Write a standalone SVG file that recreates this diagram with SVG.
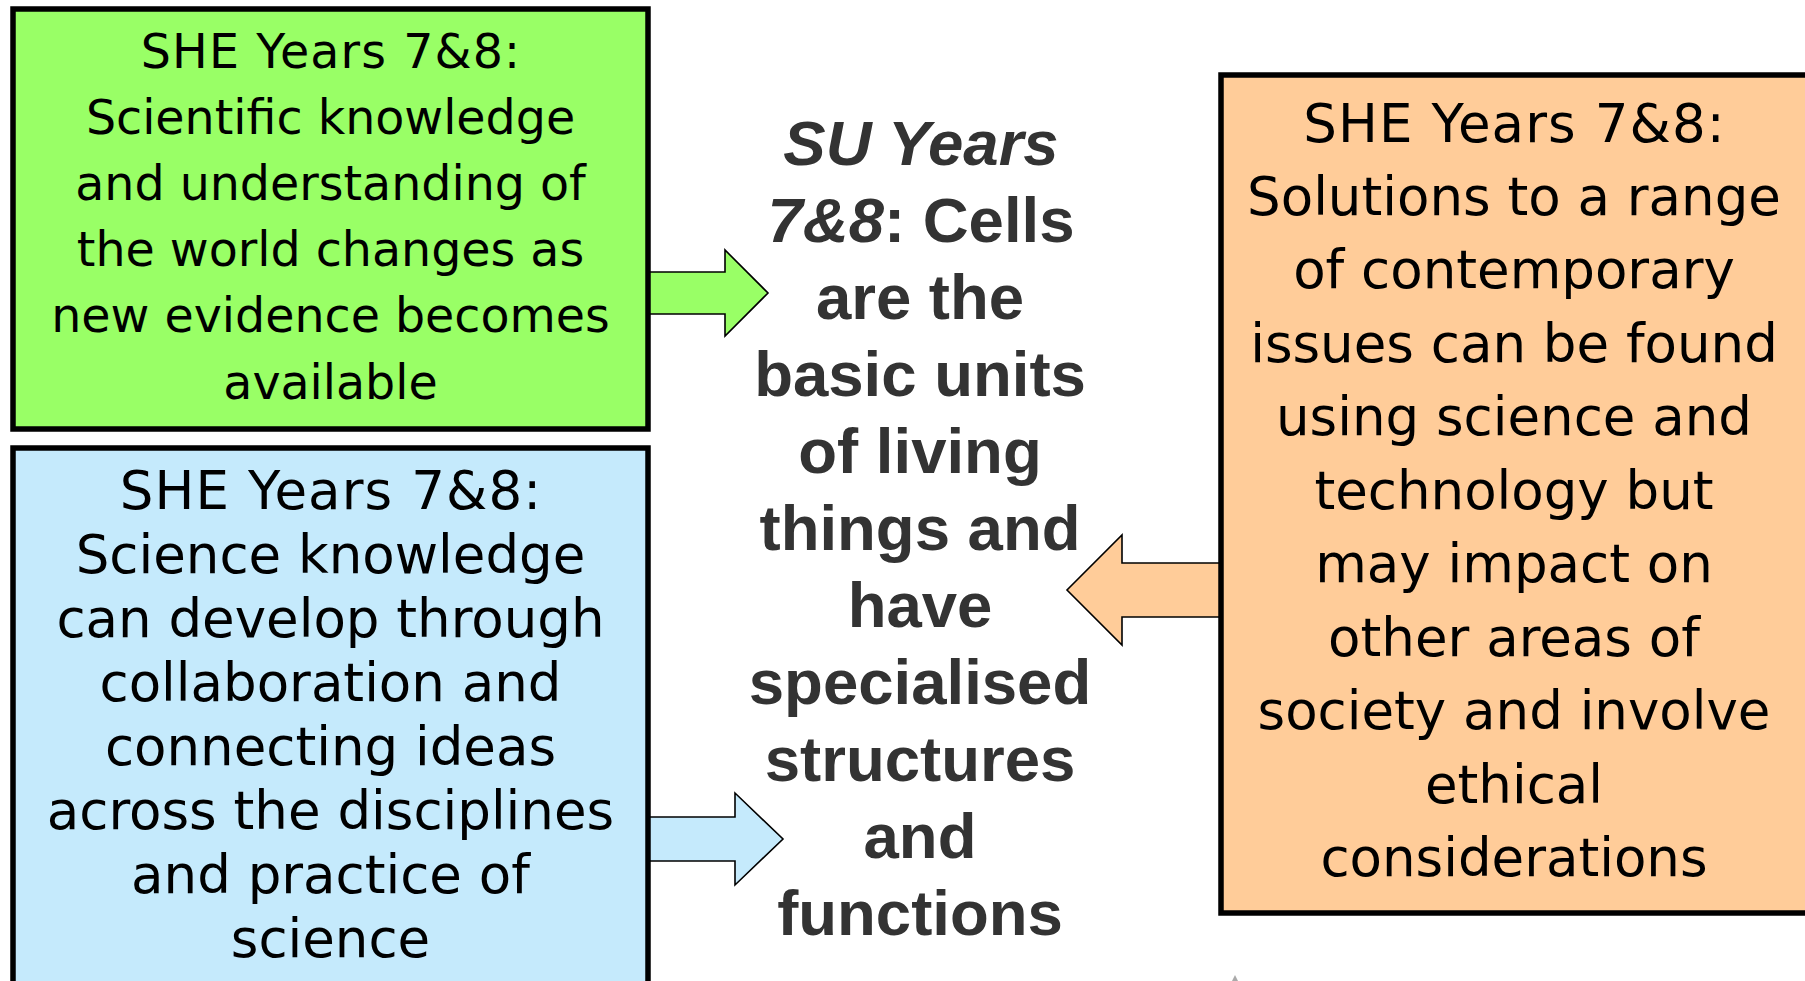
<svg xmlns="http://www.w3.org/2000/svg" width="1805" height="981" viewBox="0 0 1805 981">
<style>
.box{stroke:#000;stroke-width:5.5}
.arr{stroke:#000;stroke-width:1.6;stroke-linejoin:miter}
.t{font-family:"DejaVu Sans",Verdana,sans-serif;fill:#000;text-anchor:middle}
.g{font-size:47.5px}
.b{font-size:53px}
.h{letter-spacing:1.1px}
.c{font-family:"Liberation Sans",Arial,sans-serif;font-weight:bold;font-size:63.5px;fill:#333;text-anchor:middle}
</style>
<rect width="1805" height="981" fill="#fff"/>
<g id="connectors">
<path class="arr" fill="#99FF66" d="M648,272 H725 V250 L768,293 L725,336 V314 H648 Z"/>
<path class="arr" fill="#C5EAFC" d="M648,817 H735 V793 L783,839 L735,885 V861 H648 Z"/>
<path class="arr" fill="#FFCC99" d="M1221,563 H1122 V535 L1067,590 L1122,645 V617 H1221 Z"/>
</g>
<g id="green">
<rect class="box" x="13" y="9" width="635" height="420" fill="#99FF66"/>
<text class="t g" x="330.5"><tspan class="h" x="331" y="68">SHE Years 7&amp;8:</tspan><tspan x="330.5" y="134">Scientific knowledge</tspan><tspan x="330.5" y="200">and understanding of</tspan><tspan x="330.5" y="266">the world changes as</tspan><tspan x="330.5" y="332">new evidence becomes</tspan><tspan x="330.5" y="398.5">available</tspan></text>
</g>
<g id="blue">
<rect class="box" x="13" y="448" width="635" height="560" fill="#C5EAFC"/>
<text class="t b" x="330.5"><tspan class="h" x="331" y="509">SHE Years 7&amp;8:</tspan><tspan x="330.5" y="573">Science knowledge</tspan><tspan x="330.5" y="637">can develop through</tspan><tspan x="330.5" y="701">collaboration and</tspan><tspan x="330.5" y="765">connecting ideas</tspan><tspan x="330.5" y="829">across the disciplines</tspan><tspan x="330.5" y="893">and practice of</tspan><tspan x="330.5" y="957">science</tspan></text>
</g>
<g id="orange">
<rect class="box" x="1221" y="75" width="620" height="838" fill="#FFCC99"/>
<text class="t b" x="1514"><tspan class="h" x="1514.5" y="141.5">SHE Years 7&amp;8:</tspan><tspan x="1514" y="214.5">Solutions to a range</tspan><tspan x="1514" y="288">of contemporary</tspan><tspan x="1514" y="361.5">issues can be found</tspan><tspan x="1514" y="435">using science and</tspan><tspan x="1514" y="508.5">technology but</tspan><tspan x="1514" y="582">may impact on</tspan><tspan x="1514" y="655.5">other areas of</tspan><tspan x="1514" y="729">society and involve</tspan><tspan x="1514" y="802.5">ethical</tspan><tspan x="1514" y="876">considerations</tspan></text>
</g>
<g id="center">
<text class="c" x="920"><tspan x="921" y="165" font-style="italic">SU Years</tspan><tspan x="921" y="242"><tspan font-style="italic">7&amp;8</tspan>: Cells</tspan><tspan x="920" y="319">are the</tspan><tspan x="920" y="396">basic units</tspan><tspan x="920" y="473">of living</tspan><tspan x="920" y="550">things and</tspan><tspan x="920" y="627">have</tspan><tspan x="920" y="704">specialised</tspan><tspan x="920" y="781">structures</tspan><tspan x="920" y="858">and</tspan><tspan x="920" y="935">functions</tspan></text>
</g>
<polygon points="1232,981 1235,975 1238,981" fill="#aaa"/>
</svg>
